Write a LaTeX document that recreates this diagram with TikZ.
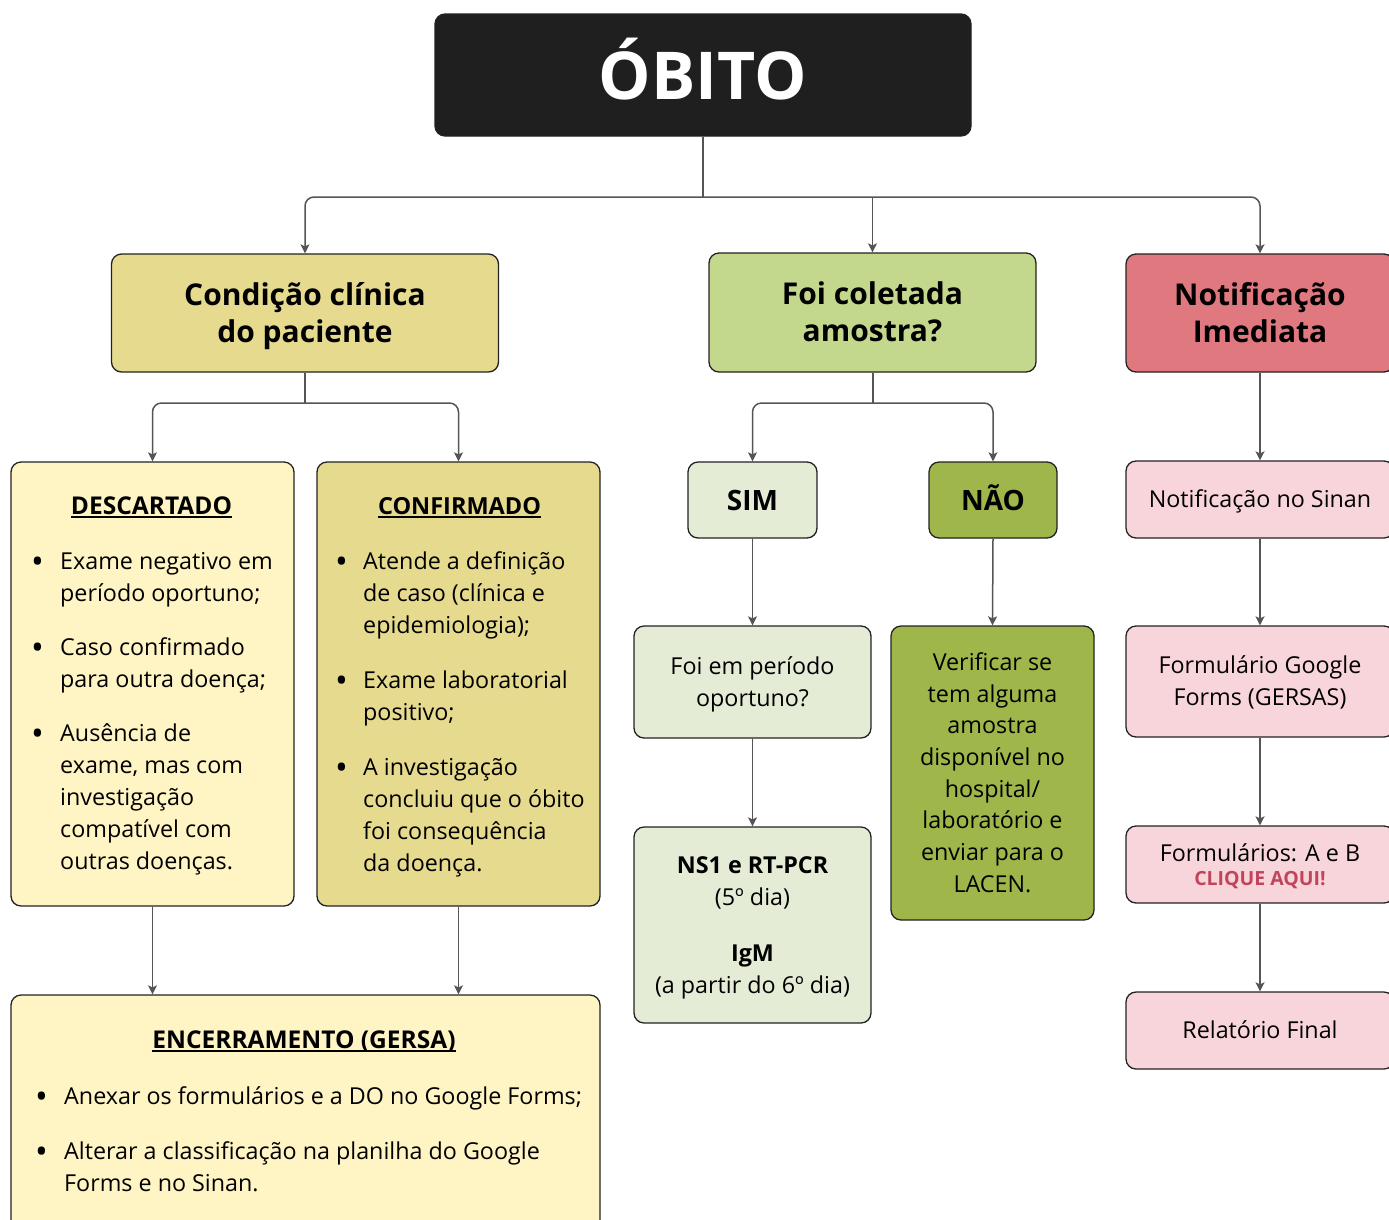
\documentclass[tikz,border=0pt]{standalone}
\usepackage{fontspec}
\setmainfont{Open Sans}
\usetikzlibrary{arrows.meta}
\definecolor{obitofill}{HTML}{1F1F1F}
\definecolor{khaki}{HTML}{E6DA8E}
\definecolor{paleyellow}{HTML}{FFF4C4}
\definecolor{lightgreen}{HTML}{C3D88C}
\definecolor{palegreen}{HTML}{E4ECD6}
\definecolor{olive}{HTML}{9EB64A}
\definecolor{redpink}{HTML}{E07880}
\definecolor{palepink}{HTML}{F8D5DA}
\definecolor{clique}{HTML}{C0445C}
\definecolor{lineg}{HTML}{555555}
\definecolor{boxline}{HTML}{222222}
\newcommand{\bodyf}{\fontsize{23.3}{32}\selectfont}
\newcommand{\headf}{\fontsize{30}{37}\selectfont\bfseries}
\newcommand{\ulbox}[1]{\setbox0\hbox{#1}\rlap{\rule[-4pt]{\wd0}{1.6pt}}\box0}
\newcommand{\blt}{\raisebox{-4.5pt}{\fontsize{34}{32}\selectfont •}}
\newcommand{\ts}{\rule{0pt}{1.114em}}
\newcommand{\bs}{\rule[-0.4em]{0pt}{0pt}}
\tikzset{
  box/.style={draw=boxline, line width=1.3pt, rounded corners=10pt, inner sep=0pt, align=center},
  ln/.style={draw=lineg, line width=1.5pt},
  conn/.style={ln, rounded corners=9pt, -{Stealth[length=9pt,width=9pt,inset=2pt]}},
  bodytext/.style={font=\bodyf, text=black, inner sep=0pt},
}
\begin{document}
\begin{tikzpicture}[x=1pt,y=-1pt]
\useasboundingbox (0,0) rectangle (1389,1219);
\clip (0,0) rectangle (1389,1219);
\fill[white] (0,0) rectangle (1389,1219);

% main boxes
\node[box, fill=obitofill, minimum width=536pt, minimum height=122pt, text=white,
      font=\fontsize{66}{70}\selectfont\bfseries] (obito) at (703,75) {\rule[-12.6pt]{0pt}{66pt}ÓBITO};
\node[box, fill=khaki, minimum width=387pt, minimum height=118pt, font=\headf] (cond) at (305,313)
  {\ts Condição clínica\\do paciente\bs};
\node[box, fill=lightgreen, minimum width=327pt, minimum height=119pt, font=\headf] (foi) at (872.5,312.5)
  {\ts Foi coletada\\amostra?\bs};
\node[box, fill=redpink, minimum width=268pt, minimum height=118pt, font=\headf] (notif) at (1260,313)
  {\ts Notificação\\Imediata\bs};

% second level
\node[box, fill=paleyellow, minimum width=283pt, minimum height=444pt] (desc) at (152.5,684) {};
\node[box, fill=khaki, minimum width=283pt, minimum height=444pt] (conf) at (458.5,684) {};
\node[box, fill=paleyellow, minimum width=589pt, minimum height=245pt] (enc) at (305.5,1117.5) {};

\node[box, fill=palegreen, minimum width=129pt, minimum height=76pt, font=\fontsize{28}{32}\selectfont\bfseries] (sim) at (752.5,500) {\ts SIM\bs};
\node[box, fill=olive, minimum width=128pt, minimum height=76pt, font=\fontsize{28}{32}\selectfont\bfseries] (nao) at (993,500) {\ts NÃO\bs};
\node[box, fill=palegreen, minimum width=237pt, minimum height=112pt, font=\bodyf] (foiper) at (752.5,682)
  {\ts Foi em período\\oportuno?\bs};
\node[box, fill=palegreen, minimum width=237pt, minimum height=196pt, font=\bodyf] (ns1) at (752.5,925)
  {\ts\textbf{NS1 e RT-PCR}\\(5º dia)\\[24pt]\textbf{IgM}\\(a partir do 6º dia)\bs};
\node[box, fill=olive, minimum width=203pt, minimum height=294pt, font=\fontsize{23.3}{31.7}\selectfont] (verif) at (992.5,773)
  {\ts Verificar se\\tem alguma\\amostra\\disponível no\\hospital/\\laboratório e\\enviar para o\\LACEN.\bs};

\node[box, fill=palepink, minimum width=268pt, minimum height=77pt, font=\bodyf] (sinan) at (1260,499.5)
  {\ts Notificação no Sinan\bs};
\node[box, fill=palepink, minimum width=268pt, minimum height=111pt, font=\bodyf] (gforms) at (1260,681.5)
  {\ts Formulário Google\\Forms (GERSAS)\bs};
\node[box, fill=palepink, minimum width=268pt, minimum height=77pt, font=\bodyf] (formab) at (1260,864.5)
  {\ts Formulários: A e B\\[-8pt]{\fontsize{19.5}{22}\selectfont\bfseries\color{clique}CLIQUE AQUI!\bs}};
\node[box, fill=palepink, minimum width=268pt, minimum height=77pt, font=\bodyf] (relat) at (1260,1030.5)
  {\ts Relatório Final\bs};

% titles and lists
\node[bodytext, anchor=base, font=\fontsize{24.5}{32}\selectfont\bfseries] (desct) at (151.5,514) {\ulbox{DESCARTADO}};
\node[bodytext, anchor=base, font=\fontsize{23.5}{32}\selectfont\bfseries] (conft) at (459.5,514) {\ulbox{CONFIRMADO}};
\node[bodytext, anchor=base, font=\fontsize{24.5}{32}\selectfont\bfseries] (enct) at (304,1048) {\ulbox{ENCERRAMENTO (GERSA)}};

\node[bodytext, anchor=base west] (descl) at (31,569)
  {\begin{tabular}[t]{@{}p{29pt}@{}l@{}}
   \blt & Exame negativo em\\
     & período oportuno;\\[22pt]
   \blt & Caso confirmado\\
     & para outra doença;\\[22pt]
   \blt & Ausência de\\
     & exame, mas com\\
     & investigação\\
     & compatível com\\
     & outras doenças.
   \end{tabular}};
\node[bodytext, anchor=base west] (confl) at (335,569)
  {\begin{tabular}[t]{@{}p{28pt}@{}l@{}}
   \blt & Atende a definição\\
     & de caso (clínica e\\
     & epidemiologia);\\[23pt]
   \blt & Exame laboratorial\\
     & positivo;\\[23pt]
   \blt & A investigação\\
     & concluiu que o óbito\\
     & foi consequência\\
     & da doença.
   \end{tabular}};
\node[bodytext, anchor=base west] (encl) at (35,1104)
  {\begin{tabular}[t]{@{}p{29pt}@{}l@{}}
   \blt & Anexar os formulários e a DO no Google Forms;\\[23pt]
   \blt & Alterar a classificação na planilha do Google\\
     & Forms e no Sinan.
   \end{tabular}};

% connectors
\coordinate (j1) at (703,197);
\coordinate (j2) at (305,403);
\coordinate (j3) at (873,403);
\draw[ln] (obito.south) -- (j1);
\draw[conn] (j1) -| (cond.north);
\draw[conn] (j1) -| (notif.north);
\draw[conn] (j1 -| foi.north) -- (foi.north);
\draw[ln] (cond.south) -- (j2);
\draw[conn] (j2) -| (desc.north);
\draw[conn] (j2) -| (conf.north);
\draw[ln] (foi.south -| j3) -- (j3);
\draw[conn] (j3) -| (sim.north);
\draw[conn] (j3) -| (nao.north);
\draw[conn] (sim.south) -- (foiper.north);
\draw[conn] (foiper.south) -- (ns1.north);
\draw[conn] (nao.south) -- (verif.north);
\draw[conn] (notif.south) -- (sinan.north);
\draw[conn] (sinan.south) -- (gforms.north);
\draw[conn] (gforms.south) -- (formab.north);
\draw[conn] (formab.south) -- (relat.north);
\draw[conn] (desc.south) -- (desc.south |- enc.north);
\draw[conn] (conf.south) -- (conf.south |- enc.north);
\end{tikzpicture}
\end{document}
